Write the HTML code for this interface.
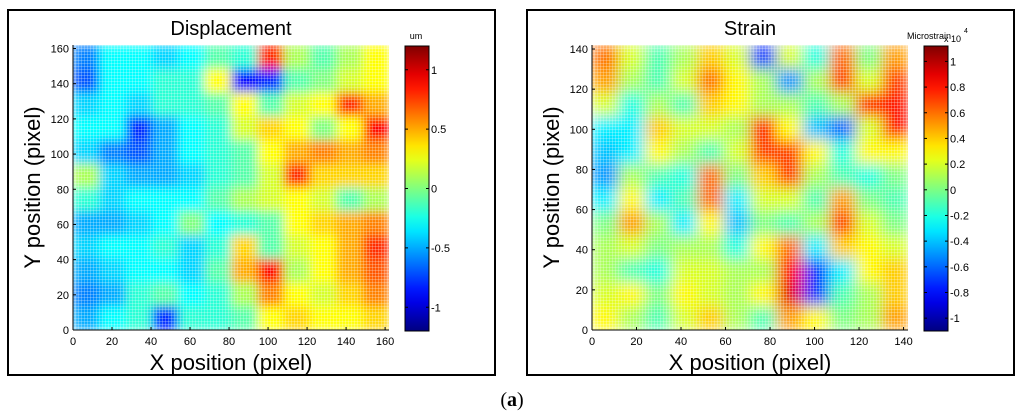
<!DOCTYPE html>
<html><head><meta charset="utf-8"><style>
html,body{margin:0;padding:0;background:#fff;}
body{width:1024px;height:414px;overflow:hidden;font-family:"Liberation Sans",sans-serif;}
</style></head><body>
<svg id="fig" width="1024" height="414" xmlns="http://www.w3.org/2000/svg"></svg>
<script>
const NS="http://www.w3.org/2000/svg";
// Displacement grid (rows top->bottom, y 162..0; cols x 0..162), um
const dispRows=[
[-0.6,-0.3,-0.3,-0.4,-0.3,-0.1,-0.2,0.8,0.1,-0.1,0.1,0.3],
[-0.7,-0.3,-0.3,-0.2,-0.2,0.3,-0.9,-0.8,-0.1,0,0.2,0.3],
[-0.4,-0.3,-0.4,-0.2,-0.2,-0.1,0.3,-0.1,0.2,0.3,0.8,0.5],
[-0.3,-0.3,-0.8,-0.5,-0.3,-0.2,0.2,0.4,0.3,0,0.3,0.9],
[-0.4,-0.6,-0.7,-0.5,-0.3,-0.2,-0.1,0.3,0.5,0.6,0.5,0.6],
[0.1,-0.4,-0.5,-0.5,-0.4,-0.2,-0.1,0.2,0.8,0.4,0.4,0.4],
[-0.2,-0.4,-0.3,-0.3,-0.3,-0.1,0.1,0.2,0.3,0.2,-0.1,0.1],
[-0.5,-0.5,-0.4,-0.3,0,-0.3,-0.2,-0.1,0.3,0.4,0.5,0.6],
[-0.4,-0.3,-0.3,-0.2,-0.4,-0.2,0.4,-0.1,0.2,0.3,0.5,0.8],
[-0.5,-0.4,-0.3,-0.3,-0.4,-0.1,0.5,0.9,0.1,0.3,0.5,0.7],
[-0.6,-0.5,-0.2,-0.1,-0.3,-0.2,0.1,0.6,0.3,0.2,0.4,0.6],
[-0.5,-0.3,-0.2,-0.8,-0.2,-0.2,-0.1,0.3,0.4,0.3,0.3,0.4]];
// Strain grid (x1e4 microstrain)
const strainRows=[
[0.6,0.2,-0.1,0.1,0.4,0.2,-0.7,0.2,-0.2,0.6,0,0.5],
[0.5,0.1,-0.1,0.2,0.6,0.3,0.1,-0.5,0.1,0.7,0.2,0.7],
[0.2,-0.2,0.1,-0.1,0.4,0.3,0.1,0.1,-0.1,0.1,0.8,0.8],
[-0.3,-0.3,0.4,0.2,0.2,0.1,0.8,0.3,-0.4,-0.6,0.2,0.8],
[-0.4,-0.3,0.3,0.1,-0.1,0.2,0.7,0.7,0.3,-0.2,0.3,0.3],
[-0.5,0.1,-0.1,-0.2,0.6,0,0.4,0.7,0.1,-0.1,-0.2,0],
[-0.3,0.3,-0.3,-0.1,0.6,-0.3,0.2,0.2,-0.1,0.5,0,-0.1],
[0,0.5,0.1,-0.3,0.3,-0.4,0,-0.1,0.1,0.7,0.2,0],
[0.1,0.2,0,0.1,0.1,-0.2,0.3,0.6,-0.3,0.4,0.3,0.2],
[0.1,-0.1,-0.2,0.2,0.2,0.1,0.1,0.8,-0.7,-0.3,0.3,0.4],
[0.2,0.3,0,0.3,0.2,0.1,0.3,0.9,-0.7,-0.1,0.1,0.4],
[0.3,0.1,-0.1,0.2,0.4,0.1,-0.1,0.5,0.3,0,0.1,0.5]];
const dispTicks=[0,20,40,60,80,100,120,140,160];
const strainTicks=[0,20,40,60,80,100,120,140];
const dispCbTicks=[-1,-0.5,0,0.5,1];
const dispCbLabels=["-1","-0.5","0","0.5","1"];
const strainCbTicks=[-1,-0.8,-0.6,-0.4,-0.2,0,0.2,0.4,0.6,0.8,1];
const strainCbLabels=["-1","-0.8","-0.6","-0.4","-0.2","0","0.2","0.4","0.6","0.8","1"];

function jet(t){t=Math.max(0,Math.min(1,t));
 const r=Math.max(0,Math.min(1,1.5-Math.abs(4*t-3))),g=Math.max(0,Math.min(1,1.5-Math.abs(4*t-2))),b=Math.max(0,Math.min(1,1.5-Math.abs(4*t-1)));
 return `rgb(${Math.round(r*255)},${Math.round(g*255)},${Math.round(b*255)})`;}
const svg=document.getElementById('fig');
function el(tag,attrs,parent){const e=document.createElementNS(NS,tag);for(const k in attrs)e.setAttribute(k,attrs[k]);(parent||svg).appendChild(e);return e;}
function txt(x,y,s,size,anchor,parent){const t=el('text',{x:x,y:y,'font-size':size,'text-anchor':anchor||'middle','font-family':'Liberation Sans, sans-serif',fill:'#000'},parent);t.textContent=s;return t;}

const defs=el('defs',{});
const pat=el('pattern',{id:'mesh',width:3,height:3,patternUnits:'userSpaceOnUse'},defs);
el('rect',{x:0,y:0,width:1,height:3,fill:'#fff','fill-opacity':0.25},pat);
el('rect',{x:0,y:0,width:3,height:1,fill:'#fff','fill-opacity':0.25},pat);

function panel(id,o){
 const g=el('g',{});
 
 
 const box=el('rect',{x:o.bx,y:10,width:o.bw,height:365,fill:'#fff',stroke:'#000','stroke-width':2},g);
 
 const x0=o.px,x1=o.px+o.pw,y0=45,y1=330;
 const sx=v=>x0+v/o.max*(x1-x0), sy=v=>y1-v/o.max*(y1-y0);
 const cmap=v=>jet((v-o.vmin)/(o.vmax-o.vmin));
 const f=el('filter',{id:'bl'+id,filterUnits:'userSpaceOnUse',x:x0,y:y0,width:o.pw,height:y1-y0},defs);
 el('feGaussianBlur',{stdDeviation:o.blur,edgeMode:'duplicate'},f);
 const cp=el('clipPath',{id:'cp'+id},defs);el('rect',{x:x0,y:y0,width:o.pw,height:y1-y0},cp);
 const hm=el('g',{'clip-path':`url(#cp${id})`},g);
 
 const cells=el('g',{filter:`url(#bl${id})`},hm);
 const rows=o.data,nr=rows.length,nc=rows[0].length;
 rows.forEach((row,i)=>row.forEach((v,j)=>{
  const cx=sx(j*o.max/nc),cy=sy(o.max-(i)*o.max/nr);
  const r=el('rect',{x:cx,y:cy,width:sx((j+1)*o.max/nc)-cx+0.5,height:sy(o.max-(i+1)*o.max/nr)-cy+0.5,fill:cmap(v)},cells);
  
  
 }));
 el('rect',{x:x0,y:y0,width:o.pw,height:y1-y0,fill:'url(#mesh)'},hm);
 el('line',{x1:x0,y1:y0,x2:x0,y2:y1,stroke:'#000','stroke-width':1},g);
 el('line',{x1:x0,y1:y1,x2:x1,y2:y1,stroke:'#000','stroke-width':1},g);
 o.ticks.forEach(t=>{
  el('line',{x1:sx(t),y1:y1,x2:sx(t),y2:y1-3,stroke:'#000'},g);
  const a=txt(sx(t),345,String(t),11,'middle',g);
  el('line',{x1:x0,y1:sy(t),x2:x0+3,y2:sy(t),stroke:'#000'},g);
  const b=txt(x0-4,sy(t)+4,String(t),11,'end',g);
 });
 const tt=txt((x0+x1)/2,35,o.title,20,'middle',g);
 const xt=txt((x0+x1)/2,370,'X position (pixel)',22,'middle',g);
 const yt=txt(0,0,'Y position (pixel)',22,'middle',g);yt.setAttribute('transform',`translate(${o.bx+32},${(y0+y1)/2}) rotate(-90)`);
 
 const cb=el('g',{},g);
 const gr=el('linearGradient',{id:'cg'+id,x1:0,y1:1,x2:0,y2:0},defs);
 for(let k=0;k<=20;k++)el('stop',{offset:k/20,'stop-color':jet(k/20)},gr);
 const cy0=46,cy1=331;
 el('rect',{x:o.cx,y:cy0,width:24,height:cy1-cy0,fill:`url(#cg${id})`,stroke:'#000','stroke-width':1},cb);
 const cs=v=>cy1-(v-o.vmin)/(o.vmax-o.vmin)*(cy1-cy0);
 o.cbt.forEach((t,k)=>{
  el('line',{x1:o.cx,y1:cs(t),x2:o.cx+3,y2:cs(t),stroke:'#000'},cb);
  el('line',{x1:o.cx+21,y1:cs(t),x2:o.cx+24,y2:cs(t),stroke:'#000'},cb);
  txt(o.cx+26,cs(t)+4,o.cbl[k],11,'start',cb);
 });
 const u=txt(o.ux,39,o.unit,9,o.unitAnchor,cb);
 if(o.exp){txt(o.cx+20,42,'x 10',9,'start',cb);txt(o.cx+40,33,'4',7,'start',cb);}
}
panel('displacement',{bx:8,bw:487,px:73,pw:316,max:162,data:dispRows,vmin:-1.2,vmax:1.2,ticks:dispTicks,title:'Displacement',cx:405,cbt:dispCbTicks,cbl:dispCbLabels,unit:'um',ux:416,unitAnchor:'middle',blur:5});
panel('strain',{bx:527,bw:487,px:592,pw:316,max:142,data:strainRows,vmin:-1.1,vmax:1.12,ticks:strainTicks,title:'Strain',cx:924,cbt:strainCbTicks,cbl:strainCbLabels,unit:'Microstrain',ux:907,unitAnchor:'start',exp:true,blur:7});
const cap=el('text',{x:512,y:406,'font-size':20,'text-anchor':'middle','font-family':'Liberation Serif, serif',fill:'#000'});
cap.innerHTML='(<tspan font-weight="bold">a</tspan>)';


</script>
</body></html>
